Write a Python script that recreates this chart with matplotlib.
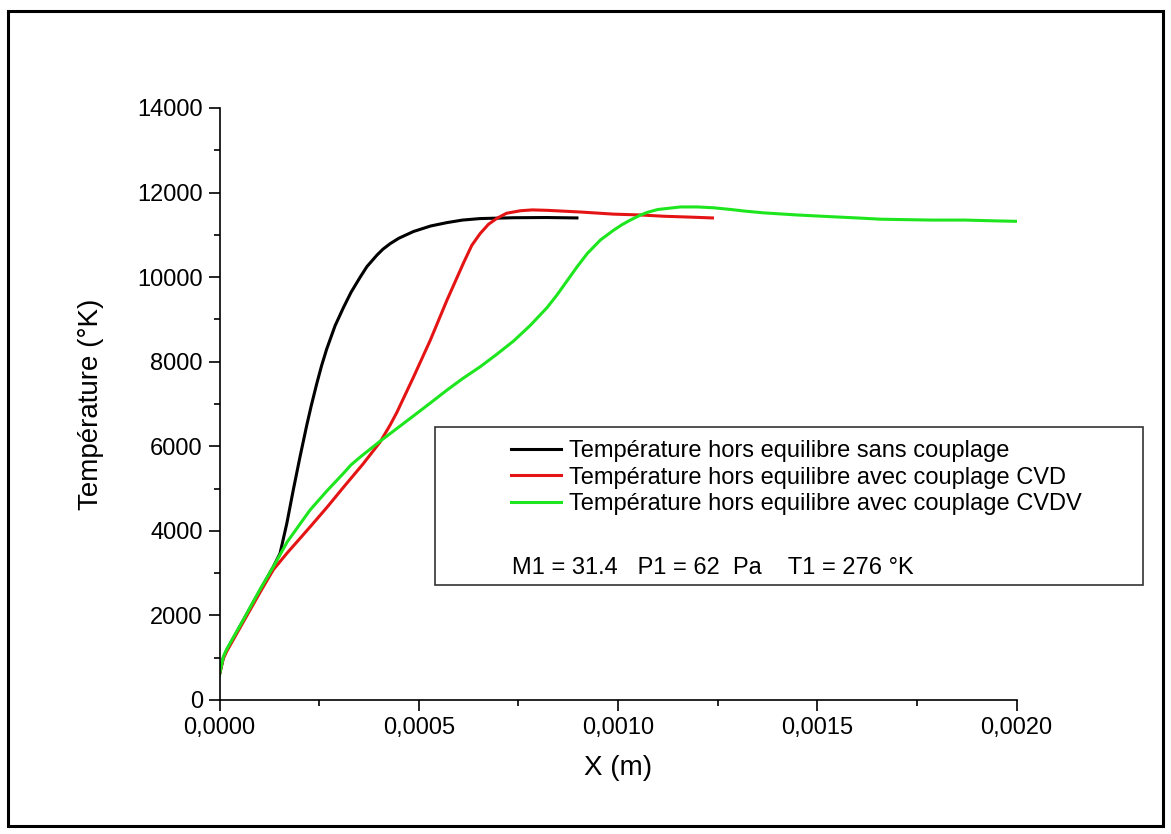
from matplotlib import pyplot as plt
from matplotlib.patches import Rectangle
from matplotlib.ticker import FuncFormatter, MultipleLocator

# valeurs (x en m, T en K)
x_sans = [0, 9.5e-6, 1.8e-5, 6.0e-5, 1.02e-4, 1.35e-4, 1.52e-4, 1.69e-4, 1.85e-4,
          2.02e-4, 2.19e-4, 2.3e-4, 2.44e-4, 2.56e-4, 2.69e-4, 2.9e-4, 3.11e-4,
          3.3e-4, 3.53e-4, 3.7e-4, 3.95e-4, 4.1e-4, 4.28e-4, 4.5e-4, 4.87e-4,
          5.3e-4, 5.71e-4, 6.1e-4, 6.54e-4, 7.38e-4, 8.2e-4, 8.97e-4]
T_sans = [600, 1000, 1180, 1890, 2600, 3150, 3470, 4180, 4960,
          5750, 6500, 6950, 7480, 7900, 8300, 8850, 9280,
          9640, 10000, 10250, 10520, 10660, 10790, 10920, 11080,
          11210, 11290, 11350, 11385, 11405, 11410, 11400]

x_cvd = [0, 9.5e-6, 1.8e-5, 6.0e-5, 1.02e-4, 1.35e-4, 1.7e-4, 2.0e-4, 2.27e-4,
         2.7e-4, 3.11e-4, 3.6e-4, 4.03e-4, 4.28e-4, 4.45e-4, 4.87e-4, 5.29e-4,
         5.71e-4, 6.13e-4, 6.33e-4, 6.54e-4, 6.75e-4, 6.96e-4, 7.2e-4, 7.55e-4,
         7.85e-4, 8.22e-4, 9.06e-4, 9.89e-4, 1.057e-3, 1.115e-3, 1.18e-3, 1.237e-3]
T_cvd = [600, 980, 1150, 1850, 2550, 3080, 3480, 3800, 4090,
         4560, 5030, 5580, 6100, 6500, 6800, 7640, 8510,
         9460, 10350, 10750, 11030, 11250, 11390, 11510, 11570,
         11590, 11580, 11540, 11490, 11470, 11440, 11420, 11400]

x_cvdv = [0, 9.5e-6, 1.8e-5, 6.0e-5, 1.02e-4, 1.35e-4, 1.7e-4, 2.27e-4, 2.7e-4,
          3.11e-4, 3.3e-4, 3.55e-4, 4.03e-4, 4.45e-4, 4.87e-4, 5.3e-4, 5.71e-4,
          6.1e-4, 6.54e-4, 6.95e-4, 7.38e-4, 7.8e-4, 8.22e-4, 8.47e-4, 8.72e-4,
          8.97e-4, 9.23e-4, 9.56e-4, 9.89e-4, 1.01e-3, 1.031e-3, 1.057e-3,
          1.073e-3, 1.1e-3, 1.157e-3, 1.2e-3, 1.24e-3, 1.283e-3, 1.32e-3,
          1.366e-3, 1.45e-3, 1.534e-3, 1.6e-3, 1.66e-3, 1.72e-3, 1.785e-3,
          1.869e-3, 1.95e-3, 2.0e-3]
T_cvdv = [600, 1020, 1200, 1900, 2620, 3150, 3740, 4490, 4950,
          5360, 5560, 5760, 6120, 6420, 6720, 7030, 7330,
          7600, 7880, 8170, 8490, 8860, 9280, 9580, 9910,
          10240, 10560, 10880, 11110, 11240, 11350, 11470,
          11530, 11600, 11660, 11660, 11640, 11600, 11560,
          11520, 11470, 11430, 11400, 11370, 11360, 11350,
          11350, 11330, 11320]

labels = ["Température hors equilibre sans couplage",
          "Température hors equilibre avec couplage CVD",
          "Température hors equilibre avec couplage CVDV"]
conditions = "M1 = 31.4   P1 = 62  Pa    T1 = 276 °K"

plt.rcParams['font.family'] = ['Liberation Sans', 'DejaVu Sans']

W, H = 1171, 834
fig = plt.figure(figsize=(W / 100, H / 100), dpi=100)
ax = fig.add_axes([219.5 / W, 1 - 700 / H, (1016.5 - 219.5) / W, (700 - 108) / H])

lw = 2.2
l1, = ax.plot(x_sans, T_sans, color='black', lw=lw, label=labels[0])
l2, = ax.plot(x_cvd, T_cvd, color='#e41414', lw=lw, label=labels[1])
l3, = ax.plot(x_cvdv, T_cvdv, color='#1ee61e', lw=lw, label=labels[2])

ax.set_xlim(0, 0.002)
ax.set_ylim(0, 14000)
ax.xaxis.set_major_locator(MultipleLocator(0.0005))
ax.xaxis.set_minor_locator(MultipleLocator(0.00025))
ax.yaxis.set_major_locator(MultipleLocator(2000))
ax.yaxis.set_minor_locator(MultipleLocator(1000))
ax.xaxis.set_major_formatter(FuncFormatter(lambda v, p: ("%.4f" % v).replace('.', ',')))

ax.spines['top'].set_visible(False)
ax.spines['right'].set_visible(False)
for s in ['left', 'bottom']:
    ax.spines[s].set_linewidth(1.2)
ax.tick_params(which='major', direction='out', length=8, width=1.2, labelsize=17, pad=4)
ax.tick_params(which='minor', direction='out', length=4, width=1.2)

ax.set_xlabel("X (m)", fontsize=20, labelpad=12)
ax.set_ylabel("Température (°K)", fontsize=20, labelpad=24)

# cadre de la legende
fig.patches.append(Rectangle((435 / W, 1 - 585 / H), (1143 - 435) / W, (585 - 427) / H,
                             transform=fig.transFigure, fill=False, ec='#333333', lw=1.2))
leg = ax.legend(handles=[l1, l2, l3], loc='upper left', frameon=False,
                bbox_to_anchor=(511 / W, 1 - 440 / H), bbox_transform=fig.transFigure,
                fontsize=17, handlelength=2.1, handletextpad=0.35,
                labelspacing=0.2, borderpad=0, borderaxespad=0)
fig.text(512 / W, 1 - 568 / H, conditions, fontsize=17, va='center', ha='left')

# cadre autour de la figure
fig.patches.append(Rectangle((8 / W, 8 / H), (1163 - 8) / W, (826 - 11) / H,
                             transform=fig.transFigure, fill=False, ec='black', lw=2.2))

plt.savefig("out.png", dpi=100)
